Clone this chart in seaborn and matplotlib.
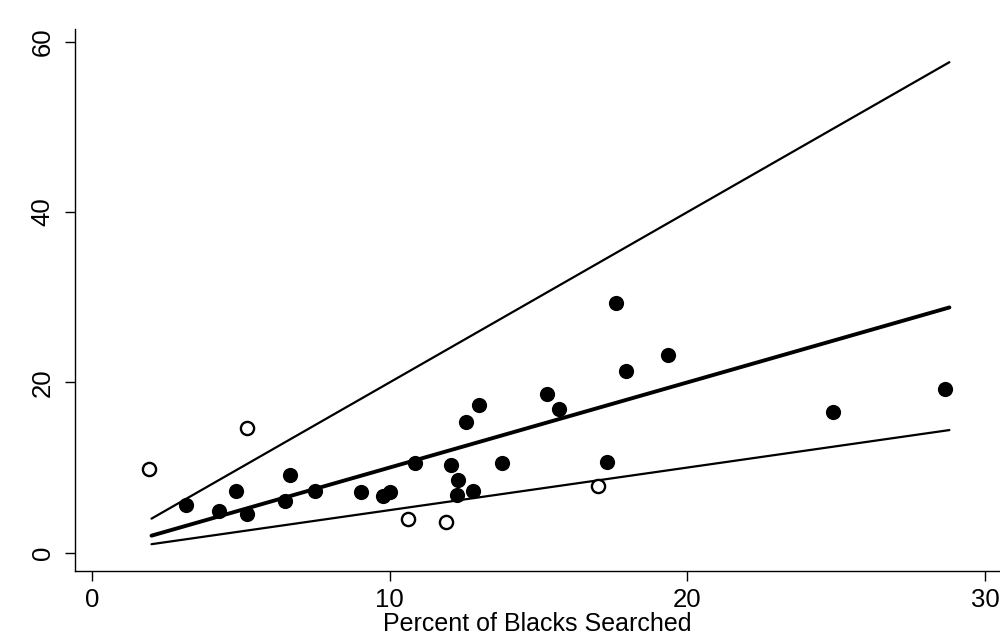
import numpy as np
import pandas as pd
import seaborn as sns
import matplotlib.pyplot as plt

# Points: filled = searched hits, hollow = the rest
filled_x = [3.15, 4.26, 4.83, 5.2, 6.5, 6.64, 7.48, 9.03, 9.77, 10.0, 10.84, 12.05,
            12.28, 12.25, 12.8, 12.55, 13.0, 13.76, 15.27, 15.7, 17.3, 17.6, 17.95,
            19.36, 24.9, 28.66]
filled_y = [5.6, 4.9, 7.2, 4.5, 6.1, 9.1, 7.3, 7.1, 6.6, 7.1, 10.5, 10.3,
            8.5, 6.8, 7.3, 15.3, 17.4, 10.5, 18.6, 16.9, 10.7, 29.3, 21.3,
            23.2, 16.5, 19.2]
hollow_x = [1.9, 5.2, 10.6, 11.9, 17.0]
hollow_y = [9.8, 14.6, 3.9, 3.6, 7.8]

# Reference lines (end points)
line_x = [2.0, 28.8]
line_high = [4.0, 57.6]
line_mid = [2.0, 28.8]
line_low = [1.0, 14.4]

x_ticks = [0, 10, 20, 30]
y_ticks = [0, 20, 40, 60]

sns.set_style("ticks", {'axes.edgecolor': 'black', 'text.color': 'black',
                        'xtick.color': 'black', 'ytick.color': 'black',
                        'axes.labelcolor': 'black'})
plt.rcParams['font.family'] = ['Liberation Sans', 'DejaVu Sans']

fig, ax = plt.subplots(figsize=(10, 6.44), dpi=100)
fig.subplots_adjust(left=0.075, right=1.0, bottom=0.114, top=0.955)

lines = pd.DataFrame({'x': line_x * 3,
                      'y': line_high + line_mid + line_low,
                      'which': ['high'] * 2 + ['mid'] * 2 + ['low'] * 2})
sns.lineplot(data=lines, x='x', y='y', hue='which', size='which',
             palette={'high': 'black', 'mid': 'black', 'low': 'black'},
             sizes={'high': 1.6, 'mid': 2.8, 'low': 1.6},
             legend=False, ax=ax, zorder=2)

df_filled = pd.DataFrame({'x': filled_x, 'y': filled_y})
df_hollow = pd.DataFrame({'x': hollow_x, 'y': hollow_y})
sns.scatterplot(data=df_filled, x='x', y='y', color='black', s=120,
                edgecolor='black', linewidth=0, ax=ax, zorder=3)
sns.scatterplot(data=df_hollow, x='x', y='y', facecolor='white', s=90,
                edgecolor='black', linewidth=1.7, ax=ax, zorder=3)

ax.set_xlim(-0.57, 30.5)
ax.set_ylim(-2.1, 61.5)
ax.set_xticks(x_ticks)
ax.set_yticks(y_ticks)
ax.tick_params(axis='both', direction='out', length=7.5, width=1, labelsize=18.5,
               color='black', labelcolor='black')
ax.tick_params(axis='x', pad=5)
ax.tick_params(axis='y', labelrotation=90, pad=7)
for lab in ax.get_yticklabels():
    lab.set_verticalalignment('center')
sns.despine(ax=ax, top=True, right=True)
ax.spines['left'].set_linewidth(1)
ax.spines['bottom'].set_linewidth(1)
ax.set_xlabel("Percent of Blacks Searched", fontsize=18, labelpad=0, color='black')
ax.set_ylabel("")

plt.savefig("out.png", dpi=100)
